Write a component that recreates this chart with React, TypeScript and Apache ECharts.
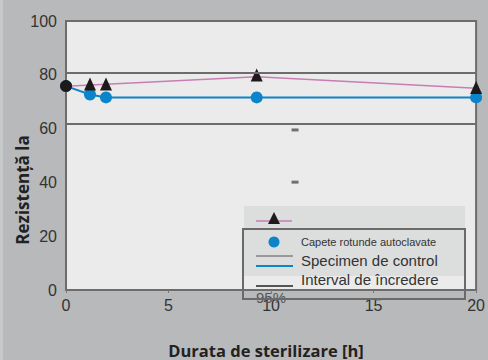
import React, { useEffect, useRef } from "react";
import * as echarts from "echarts";

const xTicks = [0, 5, 10, 15, 20];
const yTicks = [0, 20, 40, 60, 80, 100];
const controlStart: [number, number][] = [[0, 75.8]];
const autoclavedLine: [number, number][] = [
  [0, 75.8],
  [1.17, 72.7],
  [1.95, 71.6],
  [9.3, 71.6],
  [20, 71.6],
];
const specimenLine: [number, number][] = [
  [0, 75.7],
  [9.3, 79.3],
  [20, 75.0],
];
const specimenPoints: [number, number][] = [
  [1.17, 76.6],
  [1.95, 76.6],
  [9.3, 79.9],
  [20, 75.3],
];
const intervalBounds = [80.7, 61.7];
const strayMarks: [number, number][] = [
  [11.17, 59.5],
  [11.17, 40.1],
];
const legendLabels = [
  "Capete rotunde autoclavate",
  "Specimen de control",
  "Interval de încredere",
  "95%",
];

const BLUE = "#0b84c9";
const PINK = "#c97db3";
const DARK = "#1e1a1b";
const GRID = "#6c6c6c";

export default function App() {
  const ref = useRef<HTMLDivElement>(null);
  useEffect(() => {
    if (!ref.current) return;
    const chart = echarts.init(ref.current, null, { renderer: "svg" });
    const tickFont = { fontFamily: "Liberation Sans", fontSize: 16, color: "#333" };
    chart.setOption({
      animation: false,
      backgroundColor: "#b8b9bb",
      grid: {
        left: 66,
        right: 9,
        top: 21,
        bottom: 70,
        show: true,
        backgroundColor: "#ebebeb",
        borderColor: GRID,
        borderWidth: 2,
      },
      xAxis: {
        type: "value",
        min: xTicks[0],
        max: xTicks[xTicks.length - 1],
        interval: 5,
        axisLine: { show: false },
        axisTick: { show: true, length: 3, lineStyle: { color: "#777" } },
        splitLine: { show: false },
        axisLabel: { ...tickFont, margin: 7 },
      },
      yAxis: {
        type: "value",
        min: yTicks[0],
        max: yTicks[yTicks.length - 1],
        interval: 20,
        axisLine: { show: false },
        axisTick: { show: false },
        splitLine: { show: false },
        axisLabel: { ...tickFont, margin: 9 },
      },
      series: [
        {
          type: "line",
          data: specimenLine,
          symbol: "none",
          lineStyle: { color: PINK, width: 1.5 },
          markLine: {
            silent: true,
            symbol: "none",
            label: { show: false },
            lineStyle: { color: GRID, width: 2, type: "solid" },
            data: intervalBounds.map((v) => ({ yAxis: v })),
          },
          z: 2,
        },
        {
          type: "line",
          data: autoclavedLine,
          symbol: "circle",
          symbolSize: 12,
          clip: false,
          itemStyle: { color: BLUE, opacity: 1 },
          lineStyle: { color: BLUE, width: 2 },
          z: 3,
        },
        {
          type: "scatter",
          data: specimenPoints,
          symbol: "triangle",
          symbolSize: [12, 13],
          clip: false,
          itemStyle: { color: DARK, opacity: 1 },
          z: 4,
        },
        {
          type: "scatter",
          data: controlStart,
          symbol: "circle",
          symbolSize: 12,
          clip: false,
          itemStyle: { color: DARK, opacity: 1 },
          z: 5,
        },
        {
          type: "scatter",
          data: strayMarks,
          symbol: "rect",
          symbolSize: [7, 3],
          itemStyle: { color: "#707070", opacity: 1 },
          z: 2,
        },
      ],
      graphic: [
        { type: "rect", shape: { x: 0, y: 0, width: 3, height: 360 }, style: { fill: "#c8c9cb" }, z: 1 },
        {
          type: "text",
          x: 22,
          y: 190,
          rotation: Math.PI / 2,
          style: {
            text: "Rezistență la",
            font: 'bold 17px "Open Sans"',
            fill: "#222",
            align: "center",
            verticalAlign: "middle",
          },
          z: 10,
        },
        {
          type: "text",
          x: 266,
          y: 350,
          style: {
            text: "Durata de sterilizare [h]",
            font: 'bold 16.5px "Open Sans"',
            fill: "#222",
            align: "center",
            verticalAlign: "middle",
          },
          z: 10,
        },
        // legend backdrop
        { type: "rect", shape: { x: 244, y: 206, width: 221, height: 70 }, style: { fill: "#dcdddd" }, z: 20 },
        { type: "line", shape: { x1: 256, y1: 221, x2: 292, y2: 221 }, style: { stroke: PINK, lineWidth: 1.5 }, z: 21 },
        { type: "polygon", shape: { points: [[274, 212], [268, 224], [280, 224]] }, style: { fill: DARK }, z: 22 },
        { type: "circle", shape: { cx: 274, cy: 242, r: 5.5 }, style: { fill: BLUE }, z: 21 },
        { type: "line", shape: { x1: 256, y1: 256, x2: 293, y2: 256 }, style: { stroke: "#555", lineWidth: 1 }, z: 21 },
        { type: "line", shape: { x1: 256, y1: 266, x2: 293, y2: 266 }, style: { stroke: BLUE, lineWidth: 2 }, z: 21 },
        { type: "line", shape: { x1: 256, y1: 286, x2: 293, y2: 286 }, style: { stroke: "#555", lineWidth: 2 }, z: 21 },
        {
          type: "text",
          x: 301,
          y: 242,
          style: { text: legendLabels[0], font: '11px "Liberation Sans"', fill: "#333", verticalAlign: "middle" },
          z: 21,
        },
        {
          type: "text",
          x: 301,
          y: 260,
          style: { text: legendLabels[1], font: '15px "Liberation Sans"', fill: "#333", verticalAlign: "middle" },
          z: 21,
        },
        {
          type: "text",
          x: 301,
          y: 279,
          style: { text: legendLabels[2], font: '15px "Liberation Sans"', fill: "#333", verticalAlign: "middle" },
          z: 21,
        },
        {
          type: "text",
          x: 256,
          y: 297,
          style: { text: legendLabels[3], font: '15px "Liberation Sans"', fill: "#555", verticalAlign: "middle" },
          z: 19,
        },
        {
          type: "rect",
          shape: { x: 243, y: 229, width: 222, height: 70 },
          style: { fill: "none", stroke: "#6a6a6a", lineWidth: 2 },
          z: 23,
        },
      ],
    });
    return () => chart.dispose();
  }, []);
  return <div ref={ref} style={{ position: "fixed", left: 0, top: 0, width: 488, height: 360 }} />;
}
